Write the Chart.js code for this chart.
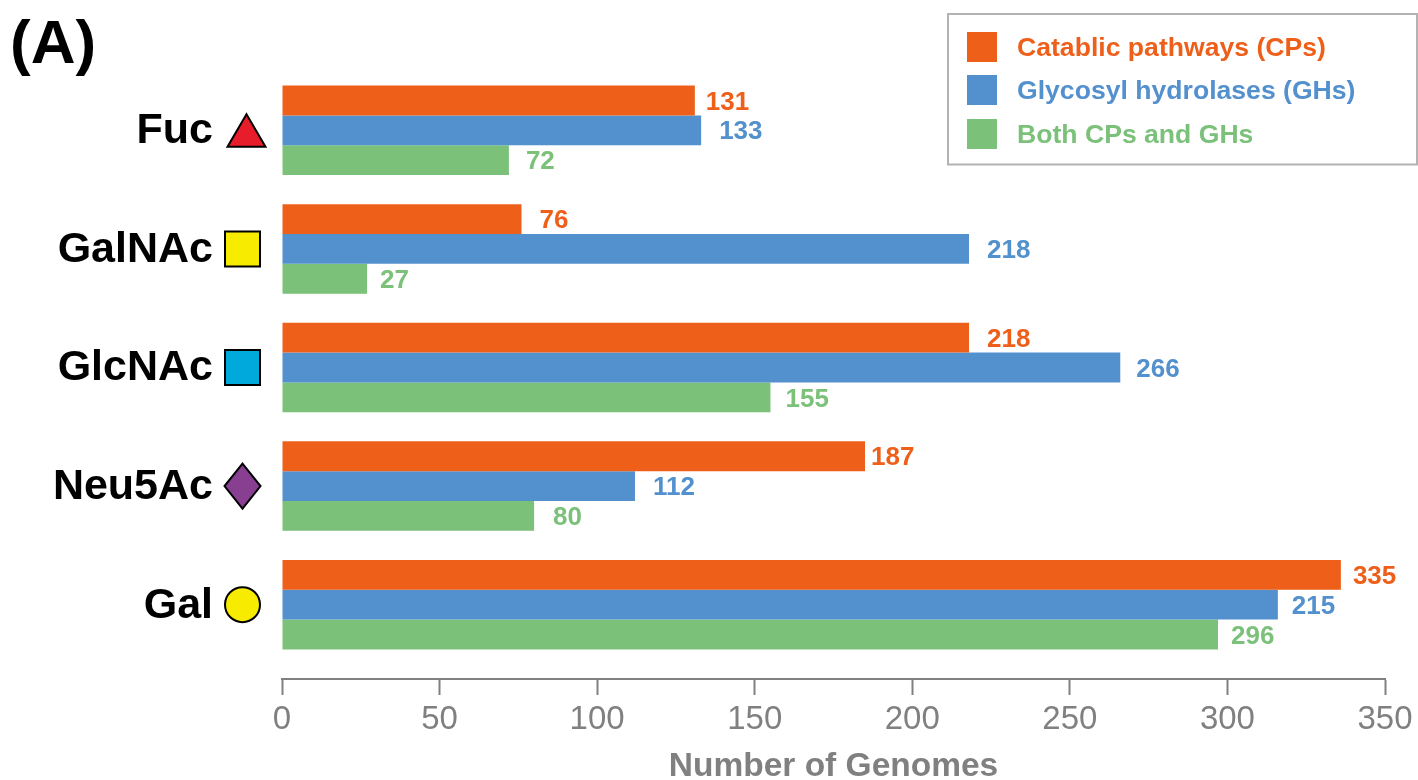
<!DOCTYPE html>
<html>
<head>
<meta charset="utf-8">
<title>Number of Genomes</title>
<script src="https://cdn.jsdelivr.net/npm/chart.js@4"></script>
<style>
  html, body { margin: 0; padding: 0; background: #fff; }
  #wrap { width: 1418px; height: 780px; }
</style>
</head>
<body>
<div id="wrap"><canvas id="chart" width="1418" height="780"></canvas></div>
<script>
const categories = ['Fuc', 'GalNAc', 'GlcNAc', 'Neu5Ac', 'Gal'];
const seriesNames = ['Catablic pathways (CPs)', 'Glycosyl hydrolases (GHs)', 'Both CPs and GHs'];

// bar lengths, as drawn
const cpValues   = [131, 76, 218, 185, 336];
const ghValues   = [133, 218, 266, 112, 316];
const bothValues = [72, 27, 155, 80, 297];

// numbers printed next to the bars (not always the same as the length)
const cpPrinted   = ['131', '76', '218', '187', '335'];
const ghPrinted   = ['133', '218', '266', '112', '215'];
const bothPrinted = ['72', '27', '155', '80', '296'];

const xTicks = [0, 50, 100, 150, 200, 250, 300, 350];

// — styles —
const FONT = '"Liberation Sans", Arial, sans-serif';
const COLORS = ['#EE5F1A', '#5390CE', '#7BC17A'];
const GREY = '#808080';
const GLYPHS = [
  { kind: 'triangle', color: '#E71D2B' },
  { kind: 'square',   color: '#F7EC00' },
  { kind: 'square',   color: '#00A9DC' },
  { kind: 'diamond',  color: '#883F92' },
  { kind: 'circle',   color: '#F7EC00' },
];
// distance from bar end to its number, per series
const LABEL_GAPS = [
  [11, 18, 18, 6, 12],
  [18, 18, 16, 18, 14],
  [17, 13, 15, 19, 13],
];
const printed = [cpPrinted, ghPrinted, bothPrinted];

// the x axis sits a little below the last category band
const moveAxisDown = {
  id: 'moveAxisDown',
  afterLayout(chart) {
    chart.scales.x.top += 15;
    chart.scales.x.bottom += 15;
  },
};

const barNumbers = {
  id: 'barNumbers',
  afterDatasetsDraw(chart) {
    const ctx = chart.ctx;
    ctx.save();
    ctx.font = 'bold 26px ' + FONT;
    ctx.textAlign = 'left';
    ctx.textBaseline = 'middle';
    chart.data.datasets.forEach((ds, i) => {
      ctx.fillStyle = COLORS[i];
      chart.getDatasetMeta(i).data.forEach((bar, j) => {
        ctx.fillText(printed[i][j], bar.x + LABEL_GAPS[i][j], bar.y + 2);
      });
    });
    ctx.restore();
  },
};

const glyphMarks = {
  id: 'glyphMarks',
  afterDraw(chart) {
    const ctx = chart.ctx;
    const y = chart.scales.y;
    ctx.save();
    ctx.strokeStyle = '#000';
    ctx.lineWidth = 2;
    ctx.lineJoin = 'miter';
    GLYPHS.forEach((g, i) => {
      const cy = y.getPixelForTick(i);
      const cx = 242.5;
      ctx.beginPath();
      if (g.kind === 'triangle') {
        ctx.moveTo(246.5, cy - 16);
        ctx.lineTo(265.5, cy + 16.5);
        ctx.lineTo(227.5, cy + 16.5);
        ctx.closePath();
      } else if (g.kind === 'square') {
        ctx.rect(cx - 17.5, cy - 17.5, 35, 35);
      } else if (g.kind === 'diamond') {
        ctx.moveTo(cx, cy - 22.5);
        ctx.lineTo(cx + 18, cy);
        ctx.lineTo(cx, cy + 22.5);
        ctx.lineTo(cx - 18, cy);
        ctx.closePath();
      } else {
        ctx.arc(cx, cy, 17.5, 0, Math.PI * 2);
      }
      ctx.fillStyle = g.color;
      ctx.fill();
      ctx.stroke();
    });
    ctx.restore();
  },
};

const legendBox = {
  id: 'legendBox',
  afterDraw(chart) {
    const ctx = chart.ctx;
    ctx.save();
    ctx.strokeStyle = '#B3B3B3';
    ctx.lineWidth = 2;
    ctx.strokeRect(948, 14, 469, 150.5);
    ctx.font = 'bold 26.6px ' + FONT;
    ctx.textAlign = 'left';
    ctx.textBaseline = 'middle';
    const rows = [47, 90, 134];
    chart.data.datasets.forEach((ds, i) => {
      ctx.fillStyle = COLORS[i];
      ctx.fillRect(967, rows[i] - 15, 30, 30);
      ctx.fillText(ds.label, 1017, rows[i] + 2);
    });
    ctx.restore();
  },
};

const panelLetter = {
  id: 'panelLetter',
  afterDraw(chart) {
    const ctx = chart.ctx;
    ctx.save();
    ctx.font = 'bold 62px ' + FONT;
    ctx.fillStyle = '#000';
    ctx.textAlign = 'left';
    ctx.textBaseline = 'alphabetic';
    ctx.fillText('(A)', 10, 63);
    ctx.restore();
  },
};

new Chart(document.getElementById('chart'), {
  type: 'bar',
  data: {
    labels: categories,
    datasets: [
      { label: seriesNames[0], data: cpValues,   backgroundColor: COLORS[0] },
      { label: seriesNames[1], data: ghValues,   backgroundColor: COLORS[1] },
      { label: seriesNames[2], data: bothValues, backgroundColor: COLORS[2] },
    ],
  },
  plugins: [moveAxisDown, barNumbers, glyphMarks, legendBox, panelLetter],
  options: {
    indexAxis: 'y',
    responsive: false,
    animation: false,
    categoryPercentage: 0.755,
    barPercentage: 1,
    layout: { padding: { top: 71, right: 33, bottom: 0, left: 0 } },
    plugins: { legend: { display: false }, tooltip: { enabled: false } },
    scales: {
      x: {
        min: 0,
        max: 350,
        afterFit: s => { s.height = 116; },
        afterBuildTicks: s => { s.ticks = xTicks.map(v => ({ value: v })); },
        grid: { drawOnChartArea: false, tickLength: 16, tickColor: GREY, tickWidth: 2 },
        border: { color: GREY, width: 2 },
        ticks: { color: GREY, maxRotation: 0, padding: 5, font: { family: FONT, size: 33 } },
        title: {
          display: true,
          text: 'Number of Genomes',
          color: GREY,
          font: { family: FONT, size: 33.5, weight: 'bold' },
          padding: { top: 0, bottom: 8 },
        },
      },
      y: {
        // no extra room for the tick text above the first band
        afterFit: s => { s.width = 282; s.paddingTop = 0; s.paddingBottom = 0; },
        grid: { display: false, drawTicks: false },
        border: { display: false },
        ticks: { color: '#000', padding: 69, labelOffset: 1, font: { family: FONT, size: 43, weight: 'bold' } },
      },
    },
  },
});
</script>
</body>
</html>
